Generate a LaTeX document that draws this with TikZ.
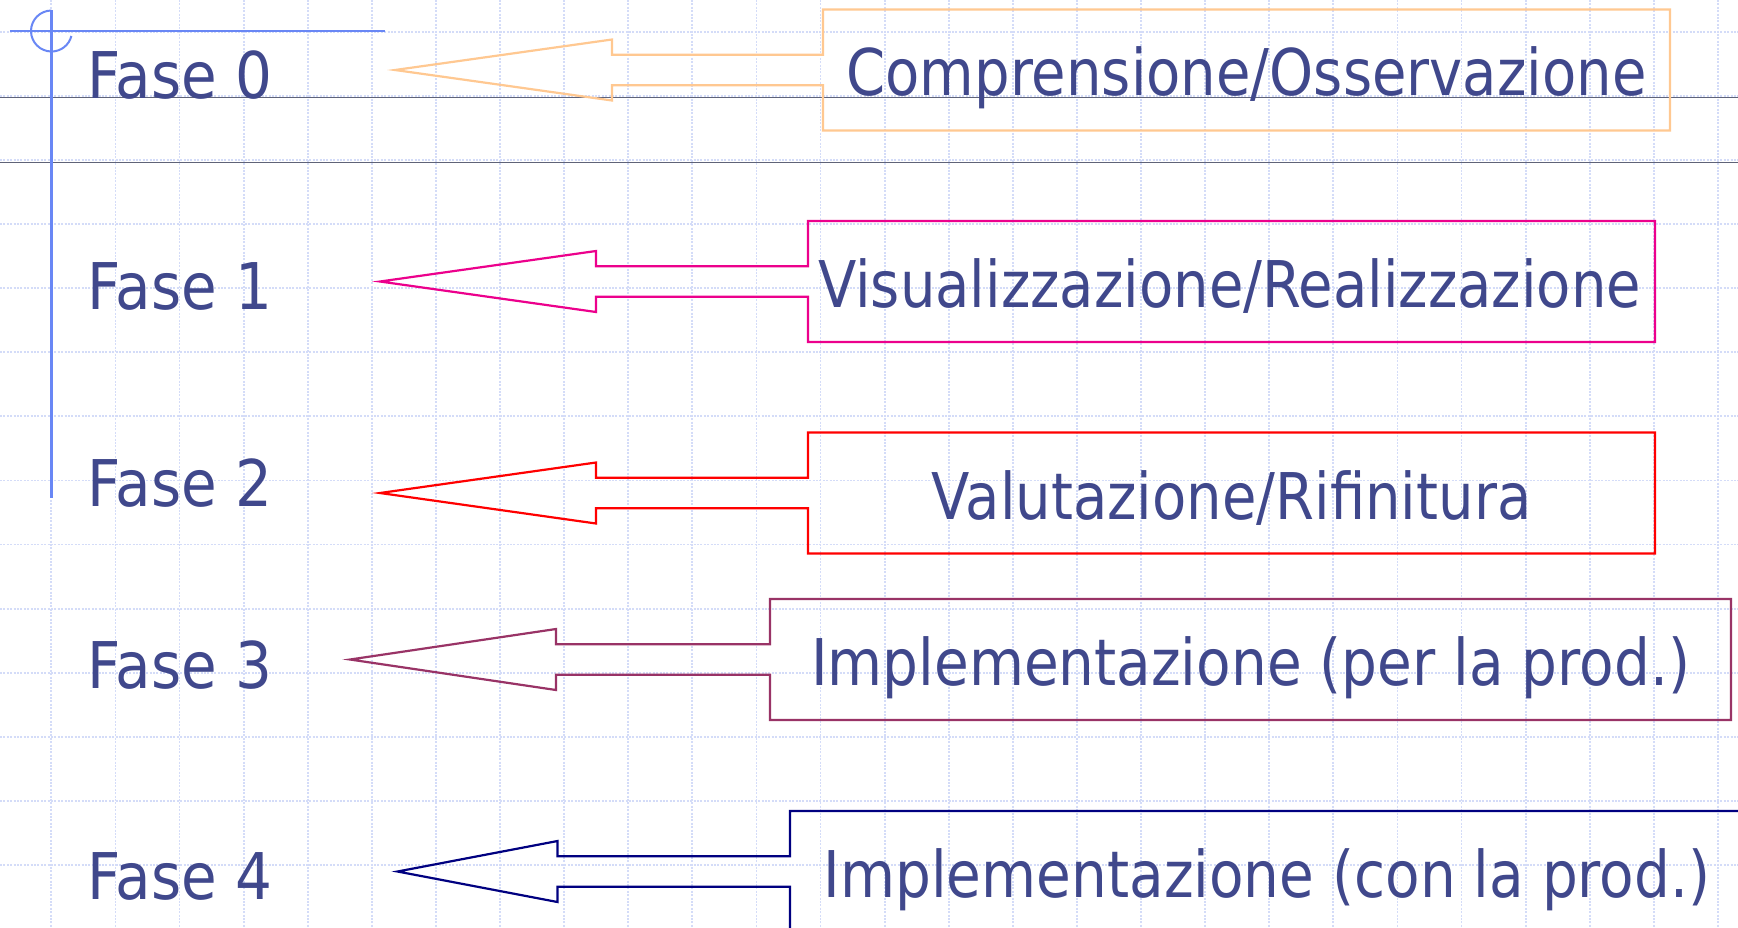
\documentclass[tikz,border=0pt]{standalone}
\usepackage{fontspec}
\setmainfont[FakeStretch=0.87]{DejaVu Sans}
\newfontfamily\phasefont[FakeStretch=0.9]{DejaVu Sans}
\definecolor{textblue}{RGB}{64,72,140}
\definecolor{tplblue}{RGB}{105,135,245}
\definecolor{gridblue}{RGB}{212,220,248}
\definecolor{rulegray}{RGB}{95,99,120}
\definecolor{calloutorange}{RGB}{255,200,145}
\definecolor{calloutmaroon}{RGB}{153,51,102}
\definecolor{calloutnavy}{RGB}{0,0,128}

% left-pointing arrow callout: name, colour, tip x, head back x, box left, box right, centre y
\newcommand\phasecallout[7]{%
  \coordinate (#1tip) at (#3,#7);
  \draw[callout, draw=#2]
    (#6,#7-60.5) -- (#6,#7+60.5) -- (#5,#7+60.5) -- (#5,#7+15.3)
    -- (#4,#7+15.3) -- (#4,#7+30.5) -- (#1tip) -- (#4,#7-30.5)
    -- (#4,#7-15.3) -- (#5,#7-15.3) -- (#5,#7-60.5) -- cycle;
}

\begin{document}
\begin{tikzpicture}[x=0.5pt, y=-0.5pt,
  gridline/.style={draw=gridblue, line width=0.9pt, dash pattern=on 1pt off 0.7pt},
  ruleline/.style={draw=rulegray, line width=0.7pt},
  tplline/.style={draw=tplblue},
  callout/.style={line width=1.1pt, line join=miter},
  phase/.style={anchor=base west, inner sep=0pt, text=textblue,
                font=\phasefont\fontsize{32.2pt}{38pt}\selectfont},
  boxtext/.style={anchor=base, inner sep=0pt, text=textblue,
                  font=\fontsize{32.2pt}{38pt}\selectfont}]

  % page
  \fill[white] (0,0) rectangle (1738,927);
  \useasboundingbox (0,0) rectangle (1738,927);

  % squared paper
  \foreach \k in {0,...,26}
    \draw[gridline] ({51.3+64.1*\k},0) -- ({51.3+64.1*\k},927);
  \foreach \k in {0,...,13}
    \draw[gridline] (0,{31.7+64.1*\k}) -- (1738,{31.7+64.1*\k});

  % title rules
  \draw[ruleline] (0,97.3) -- (1738,97.3);
  \draw[ruleline] (0,162.3) -- (1738,162.3);

  % template mark
  \draw[tplline, line width=1.5pt] (51.5,10) -- (51.5,498);
  \draw[tplline, line width=1.2pt] (10,31) -- (385,31);
  \draw[tplline, line width=1pt] (51.5,10.5) arc[start angle=-90, end angle=-346, radius=20.5];

  % callouts
  \phasecallout{c0}{calloutorange}{395}{612}{823}{1670}{70}
  \phasecallout{c1}{magenta}{380}{596}{808}{1655}{281.5}
  \phasecallout{c2}{red}{380}{596}{808}{1655}{493}
  \phasecallout{c3}{calloutmaroon}{350}{556}{770}{1731}{659.5}
  \phasecallout{c4}{calloutnavy}{397.5}{557.5}{790}{1745}{871.5}

  % phase labels
  \node[phase] (f0) at (87.5,98.3) {Fase 0};
  \node[phase] (f1) at (87.5,309) {Fase 1};
  \node[phase] (f2) at (87.5,506) {Fase 2};
  \node[phase] (f3) at (87.5,688.3) {Fase 3};
  \node[phase] (f4) at (87.5,899.3) {Fase 4};

  % callout texts
  \node[boxtext] (t0) at (1246.5,95) {Comprensione/Osservazione};
  \node[boxtext] (t1) at (1229.5,307.3) {Visualizzazione/Realizzazione};
  \node[boxtext] (t2) at (1231.5,519) {Valutazione/Rifinitura};
  \node[boxtext] (t3) at (1250.5,685) {\addfontfeature{FakeStretch=0.877}Implementazione (per la prod.)};
  \node[boxtext] (t4) at (1267,897) {\addfontfeature{FakeStretch=0.877}Implementazione (con la prod.)};
\end{tikzpicture}
\end{document}
